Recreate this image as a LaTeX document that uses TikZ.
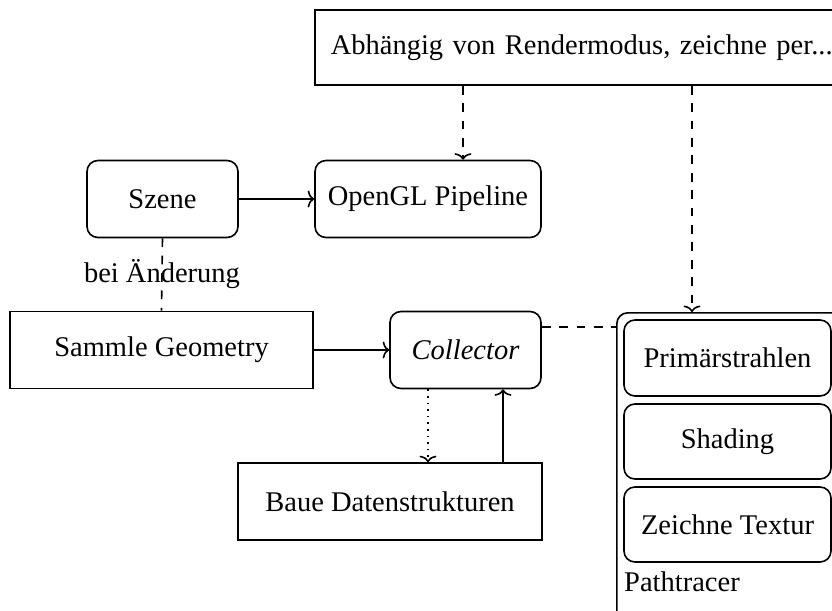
\documentclass[tikz,border=0pt]{standalone}
\usepackage{fontspec}
\setmainfont{Liberation Serif}
\usetikzlibrary{calc,arrows.meta}
\begin{document}
\begin{tikzpicture}[x=1pt,y=-1pt,
  every node/.style={font=\fontsize{28.5}{34}\selectfont},
  line/.style={line width=1.6pt},
  tip/.style={-{To[length=6.5pt,width=17pt]}},
  plainbox/.style={draw,line width=1.6pt,inner sep=0pt,align=center},
  roundbox/.style={plainbox,rounded corners=11pt},
  flow/.style={line,tip},
  dashline/.style={line,dash pattern=on 8.7pt off 8.7pt},
  dotline/.style={line,dash pattern=on 1.6pt off 5pt}]
\clip (0,0) rectangle (832,610);
\useasboundingbox (0,0) rectangle (832,610);

% mode selector
\node[plainbox,minimum height=75,text width=530,inner xsep=16pt,align=left,anchor=west]
  (mode) at (314,47.5) {Abhängig von Rendermodus, zeichne per...};

% raster path
\node[roundbox,minimum width=151,minimum height=77] (szene) at (162.5,199) {Szene};
\node[roundbox,minimum width=226,minimum height=77] (ogl) at (428,199) {OpenGL Pipeline};

% geometry collection
\node[plainbox,minimum width=303,minimum height=77] (sammle) at (161.5,350) {Sammle Geometry};
\node[roundbox,minimum width=151,minimum height=77] (coll) at (465.5,350) {\itshape Collector};
\node[plainbox,minimum width=304,minimum height=77] (baue) at (390,501.5) {Baue Datenstrukturen};

% path tracer group
\node[roundbox,minimum width=234,minimum height=318,anchor=north west] (pt) at (616,312) {};
\node[roundbox,minimum width=207,minimum height=76] (prim) at (727.5,358) {Primärstrahlen};
\node[roundbox,minimum width=207,minimum height=75] (shad) at (727.5,441.5) {Shading};
\node[roundbox,minimum width=207,minimum height=75] (text) at (727.5,524.5) {Zeichne Textur};
\node[anchor=base west,inner sep=0pt] (ptlabel) at (624,591) {Pathtracer};

% connector columns
\coordinate (c1) at (463,0);
\coordinate (c2) at (692,0);
\coordinate (c3) at (428,0);
\coordinate (c4) at (503,0);
\coordinate (r1) at (0,327);

\draw[flow] (szene.east) -- (ogl.west);
\draw[dashline,tip] (mode.south -| c1) -- (ogl.north -| c1);
\draw[dashline,tip] (mode.south -| c2) -- (pt.north -| c2);
\draw[dashline] (szene.south) -- node[inner sep=0pt] (chg) {bei Änderung} (sammle.north);
\draw[flow] (sammle.east) -- (coll.west);
\draw[dashline] (coll.east |- r1) -- (pt.west |- r1);
\draw[dotline,tip] (coll.south -| c3) -- (baue.north -| c3);
\draw[flow] (baue.north -| c4) -- (coll.south -| c4);
\end{tikzpicture}
\end{document}
